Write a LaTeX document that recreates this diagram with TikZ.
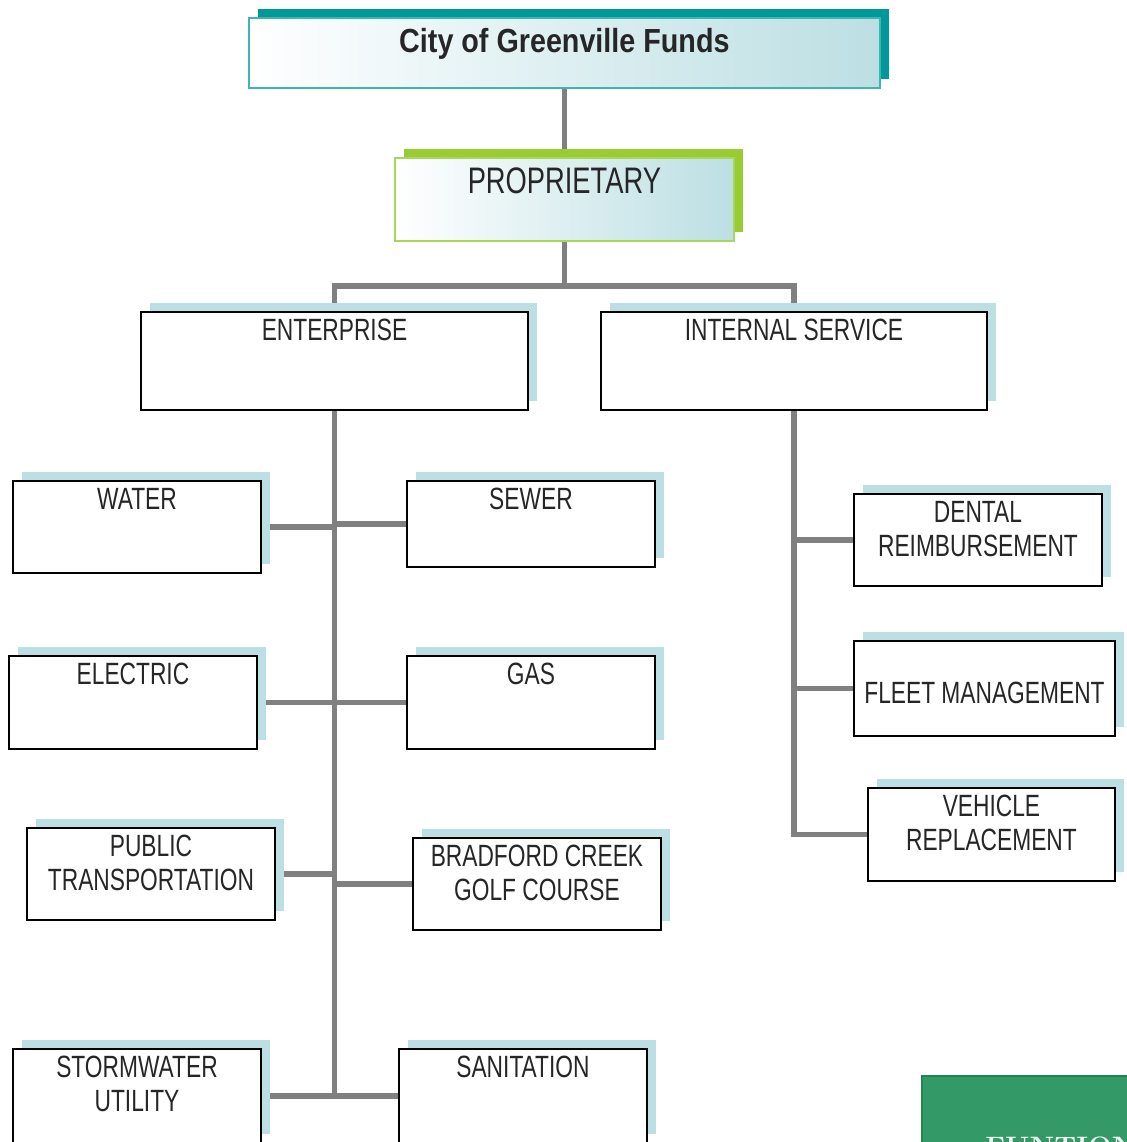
\documentclass[tikz,border=0pt]{standalone}
\usepackage{fontspec}
\usepackage{xcolor}
\usepackage{tikz}
\usetikzlibrary{positioning, shadows, backgrounds}
\newfontfamily\boxfont{Liberation Sans}[FakeStretch=0.74]
\newfontfamily\headfont{Liberation Sans}[FakeStretch=0.86]
\definecolor{fundteal}{HTML}{009999}
\definecolor{tealedge}{HTML}{3DB5B5}
\definecolor{fundgreen}{HTML}{99CC33}
\definecolor{greenedge}{HTML}{A9D65E}
\definecolor{shadowblue}{HTML}{BCDFE3}
\definecolor{linkgray}{HTML}{808080}
\definecolor{tabgreen}{HTML}{339966}
\definecolor{tabedge}{HTML}{22844F}

\begin{document}
\begin{tikzpicture}[x=0.2mm, y=-0.2mm,
  fund/.style={draw=black, line width=1.1pt, fill=white, anchor=north west, inner sep=0pt,
    general shadow={fill=shadowblue, shadow xshift=1.8mm, shadow yshift=1.8mm}},
  fundtxt/.style={font=\boxfont\fontsize{17.5}{19.3}\selectfont, text=black!85, align=center,
    inner sep=0pt, anchor=north},
  link/.style={draw=linkgray, line width=3.2pt}]
  \useasboundingbox (0,0) rectangle (1126,1142);

  % top of the chart
  \node[anchor=north west, inner sep=0pt, draw=tealedge, line width=1pt,
        left color=white, right color=shadowblue,
        general shadow={fill=fundteal, shadow xshift=1.8mm, shadow yshift=1.8mm},
        minimum width=631*0.2mm, minimum height=70*0.2mm] (title) at (248,17) {};
  \node[font=\headfont\bfseries\fontsize{19}{22}\selectfont, text=black!85, inner sep=0pt,
        anchor=north, below=2.2mm of title.north] (titletxt) {City of Greenville Funds};
  \node[anchor=north west, inner sep=0pt, draw=greenedge, line width=1pt,
        left color=white, right color=shadowblue,
        general shadow={fill=fundgreen, shadow xshift=1.8mm, shadow yshift=1.8mm},
        minimum width=339*0.2mm, minimum height=83*0.2mm] (prop) at (394,157) {};
  \node[fundtxt, font=\boxfont\fontsize{21}{24}\selectfont, below=2mm of prop.north] (proptxt) {PROPRIETARY};

  % fund types
  \node[fund, minimum width=387*0.2mm, minimum height=98*0.2mm] (ent) at (140,311) {};
  \node[fundtxt, below=1.6mm of ent.north] (enttxt) {ENTERPRISE};
  \node[fund, minimum width=386*0.2mm, minimum height=98*0.2mm] (int) at (600,311) {};
  \node[fundtxt, below=1.6mm of int.north] (inttxt) {INTERNAL SERVICE};

  % enterprise funds
  \node[fund, minimum width=248*0.2mm, minimum height=92*0.2mm] (water) at (12,480) {};
  \node[fundtxt, below=1.5mm of water.north] (watertxt) {WATER};
  \node[fund, minimum width=248*0.2mm, minimum height=86*0.2mm] (sewer) at (406,480) {};
  \node[fundtxt, below=1.5mm of sewer.north] (sewertxt) {SEWER};
  \node[fund, minimum width=248*0.2mm, minimum height=93*0.2mm] (electric) at (8,655) {};
  \node[fundtxt, below=1.6mm of electric.north] (electrictxt) {ELECTRIC};
  \node[fund, minimum width=248*0.2mm, minimum height=93*0.2mm] (gas) at (406,655) {};
  \node[fundtxt, below=1.6mm of gas.north] (gastxt) {GAS};
  \node[fund, minimum width=248*0.2mm, minimum height=92*0.2mm] (transit) at (26,827) {};
  \node[fundtxt, below=1.6mm of transit.north] (transittxt) {PUBLIC\\TRANSPORTATION};
  \node[fund, minimum width=248*0.2mm, minimum height=92*0.2mm] (golf) at (412,837) {};
  \node[fundtxt, below=1.6mm of golf.north] (golftxt) {BRADFORD CREEK\\GOLF COURSE};
  \node[fund, minimum width=248*0.2mm, minimum height=94*0.2mm] (storm) at (12,1048) {};
  \node[fundtxt, below=1.6mm of storm.north] (stormtxt) {STORMWATER\\UTILITY};
  \node[fund, minimum width=248*0.2mm, minimum height=94*0.2mm] (sanit) at (398,1048) {};
  \node[fundtxt, below=1.6mm of sanit.north] (sanittxt) {SANITATION};

  % internal service funds
  \node[fund, minimum width=248*0.2mm, minimum height=92*0.2mm] (dental) at (853,493) {};
  \node[fundtxt, below=1.6mm of dental.north] (dentaltxt) {DENTAL\\REIMBURSEMENT};
  \node[fund, minimum width=261*0.2mm, minimum height=95*0.2mm] (fleet) at (853,640) {};
  \node[fundtxt, anchor=center, yshift=-0.9mm] (fleettxt) at (fleet.center) {FLEET MANAGEMENT};
  \node[fund, minimum width=247*0.2mm, minimum height=93*0.2mm] (vehicle) at (867,787) {};
  \node[fundtxt, below=1.6mm of vehicle.north] (vehicletxt) {VEHICLE\\REPLACEMENT};

  % next page tab
  \node[anchor=north west, inner sep=0pt, draw=tabedge, line width=1pt, fill=tabgreen,
        minimum width=240*0.2mm, minimum height=100*0.2mm] (tab) at (921,1075) {};
  \node[anchor=north west, inner sep=0pt, text=white!88!gray,
        font=\rmfamily\bfseries\fontsize{16}{18}\selectfont] (tabtxt) at (985,1136) {FUNTIONAL};

  % connectors
  \begin{scope}[on background layer]
    \path (prop.south) ++(0,44) coordinate (split);
    \draw[link] (title.south) -- (prop.north);
    \draw[link] (prop.south) -- (split);
    \draw[link] (ent.north) |- (split) -| (int.north);
    \draw[link] (ent.south) -- (ent.south |- storm.east);
    \draw[link] (water.east) -- (water.east -| ent.south);
    \draw[link] (sewer.west) -- (sewer.west -| ent.south);
    \draw[link] (electric.east) -- (gas.west);
    \draw[link] (transit.east) -- (transit.east -| ent.south);
    \draw[link] (golf.west) -- (golf.west -| ent.south);
    \draw[link] (storm.east) -- (sanit.west);
    \draw[link] (int.south) |- (vehicle.west);
    \draw[link] (dental.west) -- (dental.west -| int.south);
    \draw[link] (fleet.west) -- (fleet.west -| int.south);
  \end{scope}
\end{tikzpicture}
\end{document}
